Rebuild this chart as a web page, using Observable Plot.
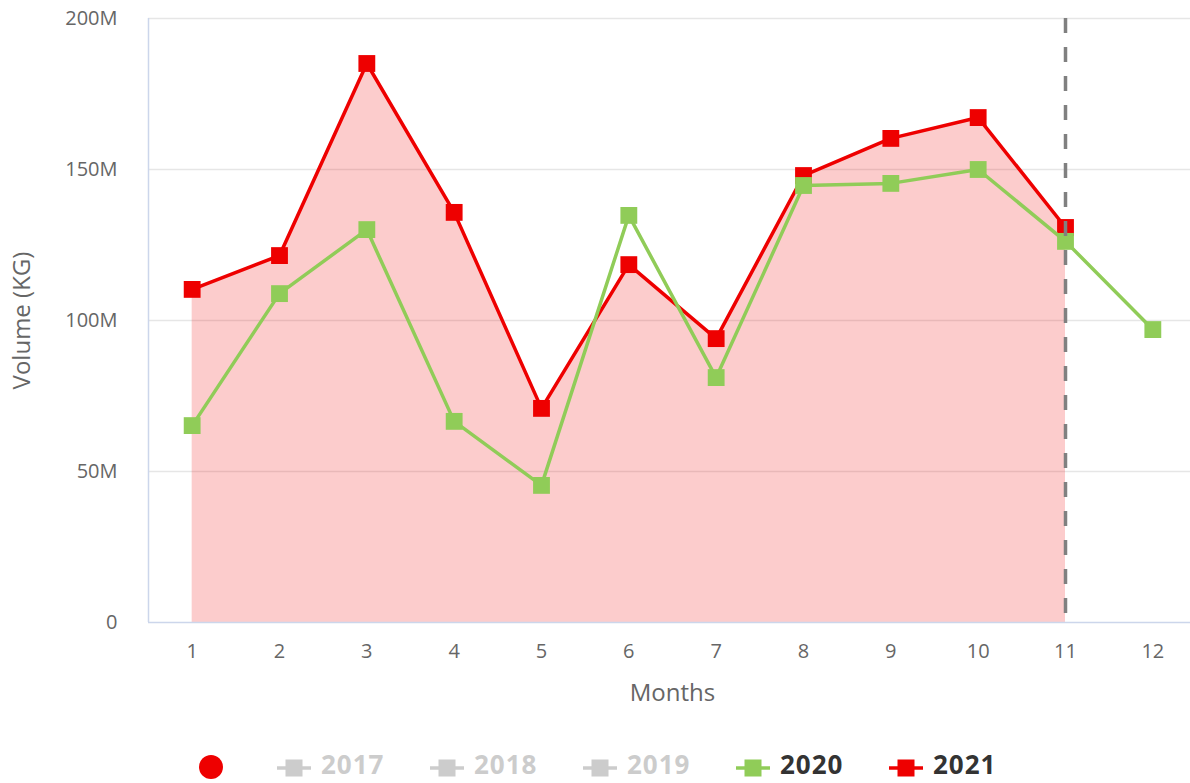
<!DOCTYPE html>
<html><head><meta charset="utf-8">
<script src="https://cdn.jsdelivr.net/npm/d3@7"></script>
<script src="https://cdn.jsdelivr.net/npm/@observablehq/plot@0.6"></script>
<style>
body{margin:0;background:#fff;font-family:"Open Sans",sans-serif;overflow:hidden}
#wrap{position:relative;width:1190px;height:783px}
#legend{position:absolute;left:0;top:747px;width:1190px;height:35px}
.li{position:absolute;top:0;height:35px;line-height:35px;display:flex;align-items:flex-start;font-weight:bold;font-size:26px;letter-spacing:1px;font-family:"Open Sans",sans-serif}
.li svg{display:block}
</style>
</head><body><div id="wrap"><div id="chart"></div><div id="legend"></div></div>
<script>
const months = [1,2,3,4,5,6,7,8,9,10,11,12];
const vol2020 = [65.2e6,108.9e6,130.1e6,66.6e6,45.4e6,134.8e6,81.1e6,144.7e6,145.4e6,150.0e6,126.2e6,97.0e6];
const vol2021 = [110.3e6,121.5e6,185.1e6,135.8e6,70.9e6,118.5e6,94.0e6,148.0e6,160.3e6,167.2e6,130.8e6];
const yTicks = [0,50e6,100e6,150e6,200e6];
const yTickLabels = ["0","50M","100M","150M","200M"];
const cutoffMonth = [11];
const legendYears = ["2017","2018","2019","2020","2021"];
const legendColors = ["#cccccc","#cccccc","#cccccc","#90cc58","#ee0000"];
const legendText = ["#cccccc","#cccccc","#cccccc","#333333","#333333"];
const xTitle = "Months";
const yTitle = "Volume (KG)";

const d2020 = months.map((m,i)=>({month:m, v:vol2020[i]}));
const d2021 = vol2021.map((v,i)=>({month:months[i], v}));
const RED = "#ee0000", GREEN = "#90cc58";

const chart = Plot.plot({
  width:1190, height:740,
  marginLeft:148, marginRight:0, marginTop:18, marginBottom:118,
  style:{fontFamily:"'Open Sans', sans-serif", fontSize:"20px", color:"#666666", background:"#fff"},
  x:{type:"linear", domain:[0.5,12.5], range:[148,1196], ticks:months, tickFormat:d=>String(d), tickSize:0, tickPadding:21, label:null},
  y:{domain:[0,200e6], range:[622,18], ticks:yTicks, tickFormat:d=>yTickLabels[yTicks.indexOf(d)], tickSize:0, tickPadding:31, label:null},
  marks:[
    Plot.gridY(yTicks.slice(1), {stroke:"#e6e6e6", strokeOpacity:1, strokeWidth:1.5}),
    Plot.areaY(d2021, {x:"month", y:"v", fill:RED, fillOpacity:0.2}),
    Plot.ruleX([0.5], {y1:0, y2:200e6, stroke:"#ccd6eb", strokeWidth:1.5}),
    Plot.ruleY([0], {x1:0.5, x2:12.5, stroke:"#ccd6eb", strokeWidth:1.5}),
    Plot.lineY(d2021, {x:"month", y:"v", stroke:RED, strokeWidth:3.5}),
    Plot.dot(d2021, {x:"month", y:"v", symbol:"square", r:9.5, fill:RED, stroke:"none"}),
    Plot.lineY(d2020, {x:"month", y:"v", stroke:GREEN, strokeWidth:3.5}),
    Plot.dot(d2020, {x:"month", y:"v", symbol:"square", r:9.5, fill:GREEN, stroke:"none"}),
    Plot.ruleX(cutoffMonth, {y1:200e6, y2:0, stroke:"#808080", strokeWidth:3.5, strokeDasharray:"15,14"}),
    Plot.text([xTitle], {x:6.5, y:0, dy:71, text:d=>d, fontSize:24, fill:"#666666"}),
    Plot.text([yTitle], {x:0.5, y:100e6, dx:-126, text:d=>d, rotate:-90, fontSize:24, fill:"#666666"})
  ]
});
document.getElementById("chart").appendChild(chart);

const legend = document.getElementById("legend");
const dot = document.createElement("div");
dot.className = "li";
dot.style.left = "198px";
dot.innerHTML = `<svg width="26" height="35"><circle cx="13" cy="20" r="12" fill="${RED}"/></svg>`;
legend.appendChild(dot);
legendYears.forEach((yr,i)=>{
  const el = document.createElement("div");
  el.className = "li";
  el.style.left = (277 + i*153) + "px";
  el.style.color = legendText[i];
  el.innerHTML = `<svg width="34" height="35" style="margin-right:10px"><line x1="0" x2="34" y1="21" y2="21" stroke="${legendColors[i]}" stroke-width="3.5"/><rect x="8.5" y="12.5" width="17" height="17" fill="${legendColors[i]}"/></svg><span>${yr}</span>`;
  legend.appendChild(el);
});
</script>
</body></html>
